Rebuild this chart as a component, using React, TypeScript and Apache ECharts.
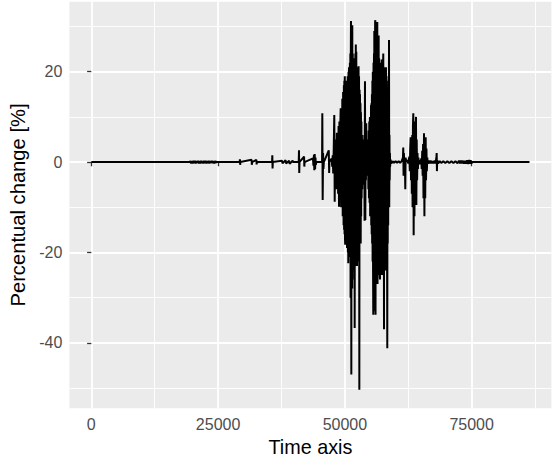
import { useEffect, useRef } from "react";
import * as echarts from "echarts";

// Time axis [s] vs. percentual change [%]
const quietStart: [number, number][] = [[0, 0], [19400, 0]];

const earlyRipples: [number, number][] = [
  [19550, 0.25], [19700, -0.3], [19850, 0.2], [20000, -0.3], [20150, 0.3], [20300, -0.25],
  [20450, 0.3], [20600, -0.3], [20750, 0.25], [20900, -0.2], [21050, 0.3], [21200, -0.3],
  [21350, 0.25], [21500, -0.3], [21650, 0.3], [21800, -0.25], [21950, 0.2], [22100, -0.3],
  [22250, 0.3], [22400, -0.25], [22550, 0.3], [22700, -0.3], [22850, 0.2], [23000, -0.25],
  [23150, 0.3], [23300, -0.3], [23450, 0.25], [23600, -0.2], [23750, 0.3], [23900, -0.25],
  [24050, 0.2], [24200, -0.3], [24350, 0.25], [24500, -0.2], [24650, 0.15], [24800, 0],
  [29250, 0], [29300, 0.6], [29350, -0.6], [29400, 0], [31600, 0.5],
  [31650, -0.6], [31700, 0], [32550, 0.5], [32600, -0.5], [32650, 0], [35640, 0],
  [35690, 1.5], [35740, -1.4], [35790, 0], [37600, 0.3], [37700, -0.3], [38300, 0.4],
  [38400, -0.3], [39000, 0.3], [39100, -0.4], [39700, 0.3], [39800, 0], [40900, 0],
  [40950, 2.6], [41000, -2.4], [41050, 0], [41950, 1.2], [42000, -1.0], [42050, 0],
  [43700, 0.8], [43800, -0.8], [43900, 1.6], [43970, -1.8], [44050, 1.8], [44130, -1.6],
  [44200, 1.0], [44280, -0.6], [44350, 0],
];

const leadBurst: [number, number][] = [
  [45500, 0], [45550, 10.8], [45620, -8.4], [45700, 2], [45780, -1.5], [45850, 0],
  [46820, 2.6], [46900, -2.4], [46950, 0], [47400, 0.8], [47500, -1], [47600, 1.5],
  [47700, -2.5], [47800, 3], [47910, 10.4], [47990, -8.8], [48080, 4], [48160, -3.5],
  [48250, 5], [48330, -6], [48420, 6.5], [48500, -4.5], [48580, 5.5], [48660, -7],
  [48750, 8], [48840, -9.9], [48920, 9], [49000, -5], [49080, 7.5], [49170, 11.9],
  [49250, -10], [49330, 9.5], [49410, -8], [49490, 14], [49570, -12], [49650, 15.5],
  [49740, -14],
];

const mainBurstA: [number, number][] = [
  [49800, 17], [49845, -15], [49890, 18], [49935, -16], [49980, 19], [50025, -17],
  [50060, -18.3], [50105, 16], [50150, -17], [50195, 17.5], [50240, -16], [50285, 18],
  [50330, -17], [50375, 16], [50420, -19], [50465, 18], [50510, -18], [50555, 19],
  [50600, -20], [50645, 18], [50670, -22.4], [50715, 20], [50760, -19], [50805, 21],
  [50850, -20], [50895, 20], [50940, -21], [50985, 22], [51030, -20], [51075, 24],
  [51120, -30], [51165, 22], [51200, 31.2], [51245, -22], [51270, -47], [51315, 23],
  [51360, -21], [51405, 25], [51450, -28], [51460, 30.3], [51505, -22], [51550, 24],
  [51595, -23], [51640, 22], [51685, -24], [51730, 23], [51775, -22], [51820, 21],
  [51865, -26], [51910, 22], [51930, -36.7], [51975, 22], [52020, -23], [52065, 24],
  [52110, -22], [52155, 26], [52200, -21], [52250, 24.4], [52295, -22], [52340, 21],
  [52385, -23], [52430, 20], [52475, -22], [52520, 21], [52565, -21], [52610, 20],
  [52655, -22], [52700, 21.2], [52745, -21], [52790, 19], [52850, -50.4], [52895, 16],
  [52940, -17], [52985, 15], [53030, -15], [53075, 13], [53120, -18], [53165, 11],
  [53210, -12], [53255, 9],
];

const midLull: [number, number][] = [
  [53300, -8], [53360, 6], [53420, -6], [53480, 5], [53540, -4], [53600, 3], [53660, -4],
  [53720, 5], [53780, -5], [53840, 6], [53880, -13], [53960, 17.9], [54030, -12.8],
  [54090, 6], [54150, -4], [54210, 8.6], [54270, -2], [54330, 3], [54390, -2.5],
  [54450, 2.5], [54510, -3], [54570, 5], [54630, -6], [54690, 7], [54750, -8],
  [54810, 9], [54870, -9], [54930, 10], [54980, -12],
];

const mainBurstB: [number, number][] = [
  [55000, -11], [55045, 10], [55090, -12], [55150, 12.6], [55195, -14], [55240, 13],
  [55285, -16], [55330, 15], [55375, -18], [55420, 18], [55465, -22], [55510, 20],
  [55555, -24], [55600, -33.8], [55645, 22], [55690, -25], [55735, 24], [55780, -26],
  [55800, 29], [55845, -27], [55890, 26], [55935, -33], [55960, 31], [56000, 31.4],
  [56045, -33.8], [56090, 25], [56135, -26], [56180, 24], [56225, -25], [56270, 28],
  [56315, -26], [56360, 25], [56390, 31], [56435, -27], [56480, 24], [56525, -25],
  [56570, 26], [56615, -24], [56660, 28], [56705, -25], [56750, 23], [56795, -24],
  [56840, 22], [56885, -25], [56920, -26], [56965, 22], [57010, -24], [57055, 21],
  [57100, -25], [57145, 22], [57190, -24], [57250, 22.7], [57295, -25], [57340, 21],
  [57385, -24], [57430, 22], [57475, -25], [57520, 21], [57570, 24], [57615, -24],
  [57660, 21], [57710, -37], [57755, 20], [57800, -24], [57845, 21], [57890, -23],
  [57935, 20], [57980, -24], [58025, 19], [58070, -22], [58100, 21], [58145, -22],
  [58190, 19], [58235, -21], [58280, 18], [58325, -22], [58360, -41.2], [58405, 16],
  [58450, -18], [58495, 15], [58540, -14], [58585, 14], [58630, -10], [58700, 27],
  [58745, -10], [58790, 6], [58835, -4], [58880, 2], [58925, -1],
];

const afterShocks: [number, number][] = [
  [58980, 0.6], [59060, -0.4], [59150, 0.3], [59300, -0.2], [59500, 0.2], [59700, -0.2],
  [60000, 0.2], [60300, -0.2], [60600, 0.2], [60900, -0.2], [61200, 0.2], [61450, 1],
  [61510, 3.2], [61570, -3], [61640, 2], [61700, -2], [61780, 1], [61850, -1.5],
  [61910, -6], [61970, 1], [62050, 0.4], [62300, 0.3], [62500, -0.3], [62700, 1.2],
  [62800, -2], [62880, 3], [62970, 5.5], [63040, -4], [63120, 5], [63200, -7],
  [63280, 6], [63350, -10], [63420, 8], [63490, 10.8], [63560, -16.2], [63640, 9],
  [63720, -12], [63800, 8], [63880, -9], [63950, 7], [64020, 10], [64090, -9.5],
  [64160, 5], [64240, -4], [64320, 2], [64400, -1.5], [64500, 1], [64600, -0.5],
  [64750, 0.4], [64900, -0.5], [65050, 0.8], [65150, -1.5], [65250, 2.5], [65330, -3],
  [65420, 4], [65500, -8], [65600, 6.4], [65680, -12], [65760, 5], [65840, -8],
  [65930, 5.5], [66000, -4], [66080, 3], [66160, -2], [66250, 1], [66350, -0.4],
  [66500, 0.3], [66700, -0.3], [66900, 0.3], [67100, -0.3], [67300, 0.2], [67500, -0.3],
  [67700, 0.3], [67900, -0.3], [68050, 1.2], [68100, 2], [68150, -2], [68200, 0.4],
  [68400, -0.3], [68700, 0.2], [69000, -0.2], [69400, 0.2], [69800, -0.2], [70200, 0.2],
  [70600, -0.2], [71000, 0.2], [71400, -0.2], [71800, 0.2], [72200, -0.25], [72500, 0.3],
  [72700, -0.3], [72900, 0.35], [73100, -0.3], [73300, 0.3], [73500, -0.35], [73700, 0.3],
  [73900, -0.35], [74100, 0.4], [74300, -0.4], [74500, 0.45], [74650, -0.4], [74800, 0.4],
  [74950, -0.3], [75100, 0],
];

const quietEnd: [number, number][] = [[86400, 0]];

const xMajorTicks = [0, 25000, 50000, 75000];
const xMinorTicks = [12500, 37500, 62500, 87500];
const yMajorTicks = [-40, -20, 0, 20];
const yMinorTicks = [-50, -30, -10, 10, 30];

const FONT = '"Liberation Sans", Arial, sans-serif';

export default function App() {
  const ref = useRef<HTMLDivElement>(null);

  useEffect(() => {
    document.body.style.margin = "0";
    if (!ref.current) return;
    const chart = echarts.init(ref.current, undefined, { renderer: "svg" });

    const data = [
      ...quietStart, ...earlyRipples, ...leadBurst, ...mainBurstA,
      ...midLull, ...mainBurstB, ...afterShocks, ...quietEnd,
    ];
    const xs = data.map((d) => d[0]);
    const ys = data.map((d) => d[1]);
    const xLo = Math.min(...xs), xHi = Math.max(...xs);
    const yLo = Math.min(...ys), yHi = Math.max(...ys);
    const xPad = (xHi - xLo) * 0.05;
    const yPad = (yHi - yLo) * 0.05;
    const xMin = xLo - xPad, xMax = xHi + xPad;
    const yMin = yLo - yPad, yMax = yHi + yPad;

    const tickLabel = {
      color: "#4D4D4D",
      fontSize: 16,
      fontFamily: FONT,
    };

    chart.setOption({
      animation: false,
      backgroundColor: "#FFFFFF",
      grid: {
        left: 69.4,
        right: 0.6,
        top: 1.7,
        bottom: 49.7,
        show: true,
        backgroundColor: "#EBEBEB",
        borderWidth: 0,
        containLabel: false,
        outerBoundsMode: "none",
      },
      xAxis: [
        {
          type: "value",
          min: xMin,
          max: xMax,
          position: "bottom",
          name: "Time axis",
          nameLocation: "middle",
          nameGap: 27.4,
          nameTextStyle: { color: "#000000", fontSize: 19.8, fontFamily: FONT },
          axisLine: { show: false },
          axisTick: {
            show: true,
            customValues: xMajorTicks,
            length: 4.2,
            lineStyle: { color: "#333333", width: 1.3 },
          },
          axisLabel: {
            ...tickLabel,
            margin: 8,
            customValues: xMajorTicks,
            formatter: (v: number) => String(v),
          },
          splitLine: { show: true, lineStyle: { color: "#FFFFFF", width: 1.8 } },
          minorTick: { show: false },
          minorSplitLine: { show: false },
          z: 2,
        },
        {
          type: "value",
          min: xMin,
          max: xMax,
          position: "top",
          axisLine: { show: false },
          axisTick: { show: false, customValues: xMinorTicks },
          axisLabel: { show: false, customValues: xMinorTicks },
          splitLine: { show: true, lineStyle: { color: "#FFFFFF", width: 0.9 } },
          z: 1,
        },
      ],
      yAxis: [
        {
          type: "value",
          min: yMin,
          max: yMax,
          position: "left",
          name: "Percentual change [%]",
          nameLocation: "middle",
          nameGap: 32.5,
          nameTextStyle: { color: "#000000", fontSize: 20.2, fontFamily: FONT },
          axisLine: { show: false },
          axisTick: {
            show: true,
            customValues: yMajorTicks,
            length: 4.2,
            lineStyle: { color: "#333333", width: 1.3 },
          },
          axisLabel: {
            ...tickLabel,
            margin: 7,
            customValues: yMajorTicks,
            formatter: (v: number) => String(v),
          },
          splitLine: { show: true, lineStyle: { color: "#FFFFFF", width: 1.8 } },
          z: 2,
        },
        {
          type: "value",
          min: yMin,
          max: yMax,
          position: "right",
          axisLine: { show: false },
          axisTick: { show: false, customValues: yMinorTicks },
          axisLabel: { show: false, customValues: yMinorTicks },
          splitLine: { show: true, lineStyle: { color: "#FFFFFF", width: 0.9 } },
          z: 1,
        },
      ],
      series: [
        {
          type: "line",
          xAxisIndex: 0,
          yAxisIndex: 0,
          data,
          showSymbol: false,
          symbol: "none",
          lineStyle: { color: "#000000", width: 2 },
          emphasis: { disabled: true },
          z: 5,
        },
      ],
    });

    return () => chart.dispose();
  }, []);

  return <div ref={ref} style={{ width: 552, height: 458 }} />;
}
